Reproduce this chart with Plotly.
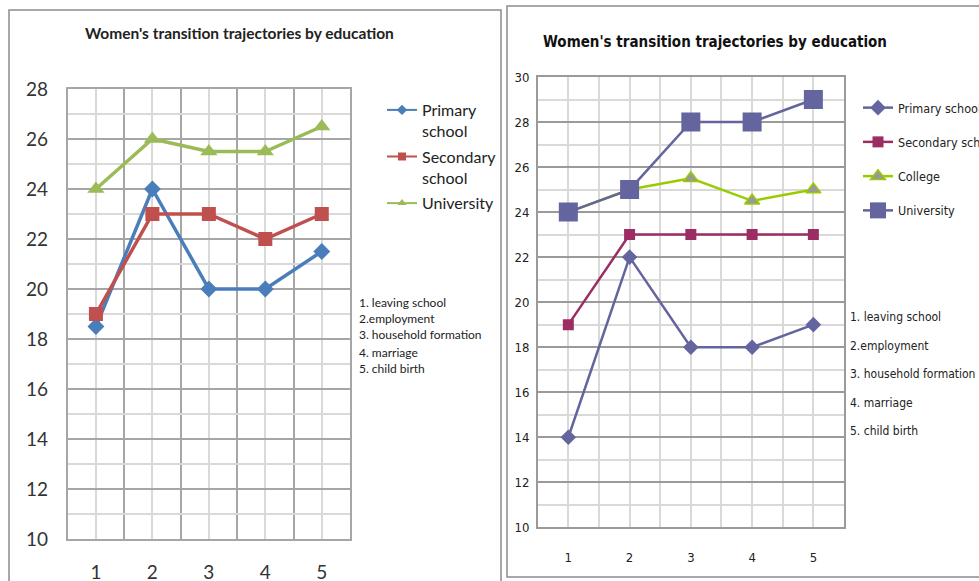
import plotly.graph_objects as go

W, H = 979, 581

# ---------- data ----------
stages = [1, 2, 3, 4, 5]
stage_notes = ["1. leaving school", "2.employment", "3. household formation", "4. marriage", "5. child birth"]

left_primary = [18.5, 24, 20, 20, 21.5]
left_secondary = [19, 23, 23, 22, 23]
left_university = [24, 26, 25.5, 25.5, 26.5]

right_primary = [14, 22, 18, 18, 19]
right_secondary = [19, 23, 23, 23, 23]
right_college = [24, 25, 25.5, 24.5, 25]
right_university = [24, 25, 28, 28, 29]

title_text = "Women's transition trajectories by education"

LFONT = "Lato, 'Open Sans', sans-serif"
RFONT = "'Liberation Sans Narrow', 'DejaVu Sans Condensed', 'Arial Narrow', sans-serif"


def px(x):
    return x / W


def py(y):
    return 1 - y / H


fig = go.Figure()

# ---------- left panel ----------
left_series = [
    ("Primary<br>school", left_primary, "#4A7EBB", "diamond", 13),
    ("Secondary<br>school", left_secondary, "#C0504D", "square", 14),
    ("University", left_university, "#9BBB59", "triangle-up", 15),
]
for name, vals, col, sym, size in left_series:
    fig.add_trace(go.Scatter(x=stages, y=vals, name=name, mode="lines+markers", showlegend=False,
                             line=dict(color=col, width=3.5),
                             marker=dict(symbol=sym, size=size, color=col),
                             xaxis="x", yaxis="y"))
for i, (name, vals, col, sym, size) in enumerate(left_series):
    # legend-only entries drawn with the thinner Excel legend style
    fig.add_trace(go.Scatter(x=[None], y=[None], name=name, mode="lines+markers",
                             line=dict(color=col, width=2),
                             marker=dict(symbol=sym, size=8, color=col),
                             xaxis="x", yaxis="y", legend="legend", legendgroup="L%d" % i))

# ---------- right panel ----------
fig.add_trace(go.Scatter(x=stages, y=right_primary, name="Primary school", mode="lines+markers",
                         line=dict(color="#64649E", width=2.5),
                         marker=dict(symbol="diamond", size=12, color="#64649E"),
                         xaxis="x2", yaxis="y2", legend="legend2", legendgroup="d"))
fig.add_trace(go.Scatter(x=stages, y=right_secondary, name="Secondary school", mode="lines+markers",
                         line=dict(color="#9B2D62", width=2.5),
                         marker=dict(symbol="square", size=11, color="#9B2D62"),
                         xaxis="x2", yaxis="y2", legend="legend2", legendgroup="e"))
fig.add_trace(go.Scatter(x=stages, y=right_college, name="College", mode="lines+markers",
                         line=dict(color="#99CC00", width=2.5),
                         marker=dict(symbol="triangle-up", size=13, color="#999999",
                                     line=dict(color="#99CC00", width=1.5)),
                         xaxis="x2", yaxis="y2", legend="legend2", legendgroup="f"))
fig.add_trace(go.Scatter(x=stages, y=right_university, name="University", mode="lines+markers",
                         line=dict(color="#64649E", width=2.5),
                         marker=dict(symbol="square", size=19, color="#64649E"),
                         xaxis="x2", yaxis="y2", legend="legend2", legendgroup="g"))

# ---------- axes ----------
common_x = dict(range=[0.5, 5.5], tickmode="array", tickvals=stages, ticks="", showline=True,
                mirror=True, zeroline=False)
fig.update_layout(
    xaxis=dict(domain=[px(67.7), px(350)], anchor="y", linecolor="#A6A6A6", linewidth=1.5,
               showgrid=True, gridcolor="#D9D9D9", gridwidth=1.5,
               minor=dict(tick0=0.5, dtick=0.5, showgrid=True, gridcolor="#A6A6A6", gridwidth=1.5),
               tickfont=dict(family=LFONT, size=19, color="#333"), ticklabelstandoff=15,
               **common_x),
    yaxis=dict(domain=[py(539), py(89)], anchor="x", range=[10, 28], dtick=2, tick0=10,
               showline=True, mirror=True, linecolor="#A6A6A6", linewidth=1.5, zeroline=False,
               showgrid=True, gridcolor="#A6A6A6", gridwidth=1.5,
               minor=dict(dtick=1, showgrid=True, gridcolor="#D9D9D9", gridwidth=1.5),
               tickfont=dict(family=LFONT, size=19, color="#333"), ticklabelstandoff=14),
    xaxis2=dict(domain=[px(537.7), px(844)], anchor="y2", linecolor="#9A9A9A", linewidth=1.5,
                showgrid=True, gridcolor="#D9D9D9", gridwidth=1.5,
                minor=dict(tick0=0.5, dtick=0.5, showgrid=True, gridcolor="#D9D9D9", gridwidth=1.5),
                tickfont=dict(family=RFONT, size=13, color="#222"), ticklabelstandoff=17,
                **common_x),
    yaxis2=dict(domain=[py(527.3), py(77)], anchor="x2", range=[10, 30], dtick=2, tick0=10,
                showline=True, mirror=True, linecolor="#9A9A9A", linewidth=1.5, zeroline=False,
                showgrid=True, gridcolor="#9A9A9A", gridwidth=1.5,
                minor=dict(dtick=1, showgrid=True, gridcolor="#D9D9D9", gridwidth=1.5),
                tickfont=dict(family=RFONT, size=13, color="#222"), ticklabelstandoff=4),
)

# ---------- legends ----------
fig.update_layout(
    legend=dict(x=px(382), y=py(93), xanchor="left", yanchor="top", valign="top",
                font=dict(family=LFONT, size=16, color="#222"), tracegroupgap=2,
                bgcolor="rgba(0,0,0,0)", itemsizing="trace"),
    legend2=dict(x=px(858), y=py(93), xanchor="left", yanchor="top",
                 font=dict(family=RFONT, size=12.5, color="#222"), tracegroupgap=15,
                 bgcolor="rgba(0,0,0,0)", itemsizing="trace"),
)

# ---------- titles and notes ----------
annotations = [
    dict(text="<b>" + title_text + "</b>", x=px(239.5), y=py(33), xref="paper", yref="paper",
         xanchor="center", yanchor="middle",
         showarrow=False, font=dict(family=LFONT, size=15.5, color="#222")),
    dict(text="<b>" + title_text + "</b>", x=px(715), y=py(42), xref="paper", yref="paper",
         xanchor="center", yanchor="middle",
         showarrow=False, font=dict(family=RFONT, size=15, color="#111")),
]
left_note_y = [302, 318, 334, 352, 368]
right_note_y = [317, 346, 374, 403, 431]
for t, yy in zip(stage_notes, left_note_y):
    annotations.append(dict(text=t, x=px(357), y=py(yy), xref="paper", yref="paper",
                            xanchor="left", yanchor="middle",
                            showarrow=False, font=dict(family=LFONT, size=12, color="#222")))
for t, yy in zip(stage_notes, right_note_y):
    annotations.append(dict(text=t, x=px(848), y=py(yy), xref="paper", yref="paper",
                            xanchor="left", yanchor="middle",
                            showarrow=False, font=dict(family=RFONT, size=12, color="#222")))

# ---------- panel frames ----------
shapes = [
    dict(type="rect", xref="paper", yref="paper", x0=px(9), x1=px(501), y0=py(600), y1=py(10),
         line=dict(color="#8C8C8C", width=1.5), layer="below"),
    dict(type="rect", xref="paper", yref="paper", x0=px(507), x1=px(1000), y0=py(577), y1=py(6),
         line=dict(color="#8C8C8C", width=1.5), layer="below"),
]

fig.update_layout(width=W, height=H, margin=dict(l=0, r=0, t=0, b=0, autoexpand=False),
                  paper_bgcolor="white", plot_bgcolor="white",
                  annotations=annotations, shapes=shapes)

fig.write_html("out.html", config={"displayModeBar": False},
               post_script="document.body.style.margin='0';")
